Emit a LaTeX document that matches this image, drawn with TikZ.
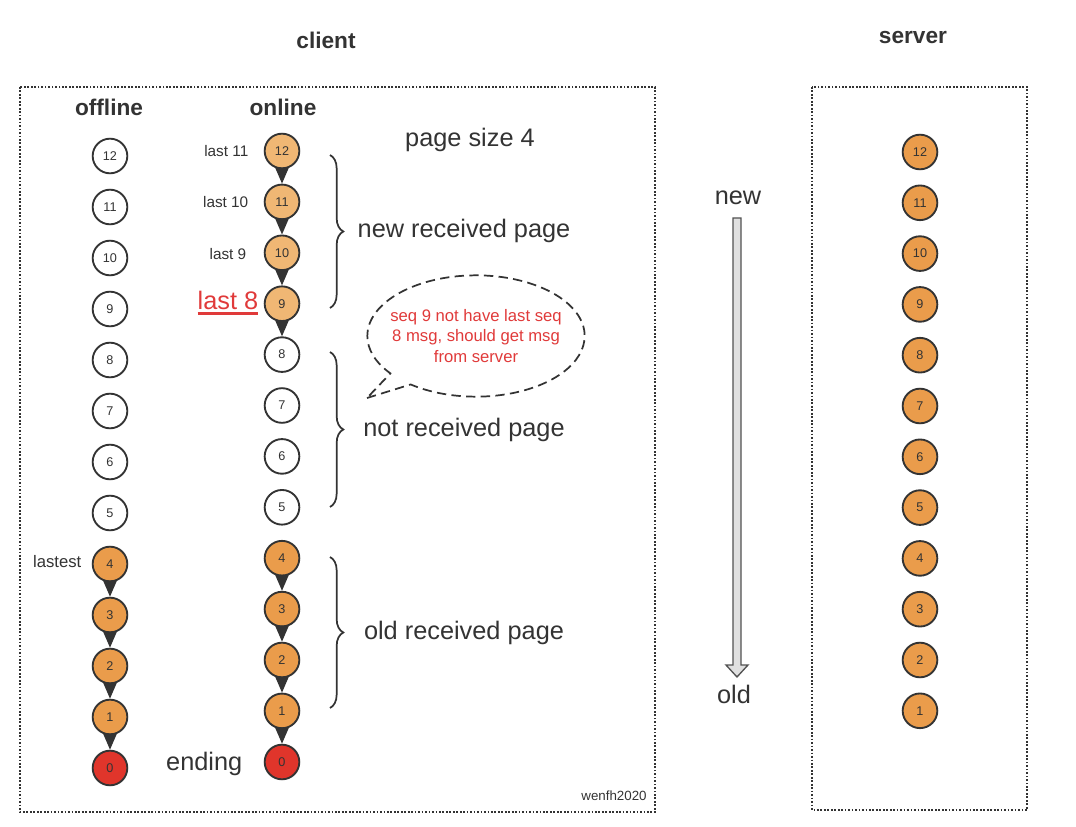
\documentclass[tikz,border=0pt]{standalone}
\usepackage{fontspec}
\setmainfont{Liberation Sans}
\usetikzlibrary{arrows.meta,decorations.pathreplacing,shapes.callouts}
\definecolor{ink}{HTML}{333333}
\definecolor{orng}{HTML}{EA9C4B}
\definecolor{lorng}{HTML}{F0B774}
\definecolor{redc}{HTML}{E0352B}
\definecolor{callred}{HTML}{E03A3A}
\newcommand{\thickul}[1]{{\setbox0\hbox{#1}\rlap{\rule[-3.5pt]{\wd0}{1.6pt}}\box0}}
\begin{document}
\begin{tikzpicture}[x=0.75pt,y=-0.75pt,
  seqc/.style={circle, draw=ink, line width=1.4pt, minimum size=26pt, inner sep=0pt,
    font=\fontsize{9.5}{10}\selectfont, text=ink},
  wht/.style={seqc, fill=white},
  org/.style={seqc, fill=orng},
  lor/.style={seqc, fill=lorng},
  rdc/.style={seqc, fill=redc},
  link/.style={draw=ink, line width=1.2pt, -{Triangle[width=10pt,length=12pt]}},
  frame/.style={draw=ink, line width=1.3pt, dash pattern=on 1.3pt off 1.3pt},
  title/.style={font=\fontsize{17}{20}\selectfont\bfseries, text=ink},
  big/.style={font=\fontsize{19}{22}\selectfont, text=ink},
  small/.style={font=\fontsize{11.5}{13}\selectfont, text=ink},
  brc/.style={draw=ink, line width=1.3pt, decorate, decoration={brace, amplitude=10pt}}
]
\useasboundingbox (0,0) rectangle (1076,827);

% frames
\draw[frame] (20,87) rectangle (655,812);
\draw[frame] (812,87) rectangle (1027,810);

% titles
\node[title] (tclient) at (326,40) {client};
\node[title] (tserver) at (913,38) {server};
\node[title] (toff) at (109,107) {offline};
\node[title] (ton) at (283,107) {online};
\node[big] (psize) at (470,140) {page size 4};

% offline column
\foreach \n in {12,11,...,5} {
  \node[wht] (off\n) at (110,{156+(12-\n)*51}) {\n};
}
\foreach \n in {4,3,2,1} {
  \node[org] (off\n) at (110,{156+(12-\n)*51}) {\n};
}
\node[rdc] (off0) at (110,768) {0};

% online column
\foreach \n in {12,11,10,9} {
  \node[lor] (on\n) at (282,{151+(12-\n)*50.9}) {\n};
}
\foreach \n in {8,7,6,5} {
  \node[wht] (on\n) at (282,{151+(12-\n)*50.9}) {\n};
}
\foreach \n in {4,3,2,1} {
  \node[org] (on\n) at (282,{151+(12-\n)*50.9}) {\n};
}
\node[rdc] (on0) at (282,762) {0};

% server column
\foreach \n in {12,11,...,1} {
  \node[org] (sv\n) at (920,{152+(12-\n)*50.8}) {\n};
}

% links
\foreach \a/\b in {4/3,3/2,2/1,1/0} {
  \draw[link] (off\a.south) -- (off\b.north);
  \draw[link] (on\a.south) -- (on\b.north);
}
\foreach \a/\b in {12/11,11/10,10/9,9/8} {
  \draw[link] (on\a.south) -- (on\b.north);
}

% labels
\node[small, anchor=east] (l11) at (253,151) {last 11};
\node[small, anchor=east] (l10) at (253,202) {last 10};
\node[small, anchor=east] (l9) at (251,254) {last 9};
\node[anchor=east, text=callred, font=\fontsize{19}{21}\selectfont] (l8) at (263,303) {\thickul{last 8}};
\node[anchor=east, text=ink, font=\fontsize{12.5}{14}\selectfont] (lst) at (86,562) {lastest};
\node[big, anchor=east] (endl) at (247,764) {ending};

% braces
\coordinate (b1t) at (330,155); \coordinate (b1b) at (330,308);
\coordinate (b2t) at (330,352); \coordinate (b2b) at (330,507);
\coordinate (b3t) at (330,557); \coordinate (b3b) at (330,708);
\draw[brc] (b1t) -- (b1b);
\draw[brc] (b2t) -- (b2b);
\draw[brc] (b3t) -- (b3b);
\node[big] (newp) at (464,231) {new received page};
\node[big] (notp) at (464,430) {not received page};
\node[big] (oldp) at (464,633) {old received page};

% callout
\coordinate (ptr) at (367,398);
\node[ellipse callout, draw=ink, line width=1.3pt, dash pattern=on 7pt off 4pt,
  minimum width=163pt, minimum height=91pt, callout absolute pointer={(ptr)},
  inner sep=0pt] (call) at (476,336) {};
\node[align=center, text=callred, font=\fontsize{12.5}{15.5}\selectfont, inner sep=0pt] (calltxt)
  at (call.center) {seq 9 not have last seq\\8 msg, should get msg\\from server};

% new/old arrow
\node[big] (newl) at (738,198) {new};
\node[big] (oldl) at (734,694) {old};
\draw[draw=ink!85, fill=black!12, line width=1pt, line join=miter]
  (733,218) -- (741,218) -- (741,665) -- (748,665) -- (737,677) -- (726,665) -- (733,665) -- cycle;

% signature
\node[text=ink, font=\fontsize{10}{12}\selectfont] (sig) at (614,796) {wenfh2020};
\end{tikzpicture}
\end{document}
